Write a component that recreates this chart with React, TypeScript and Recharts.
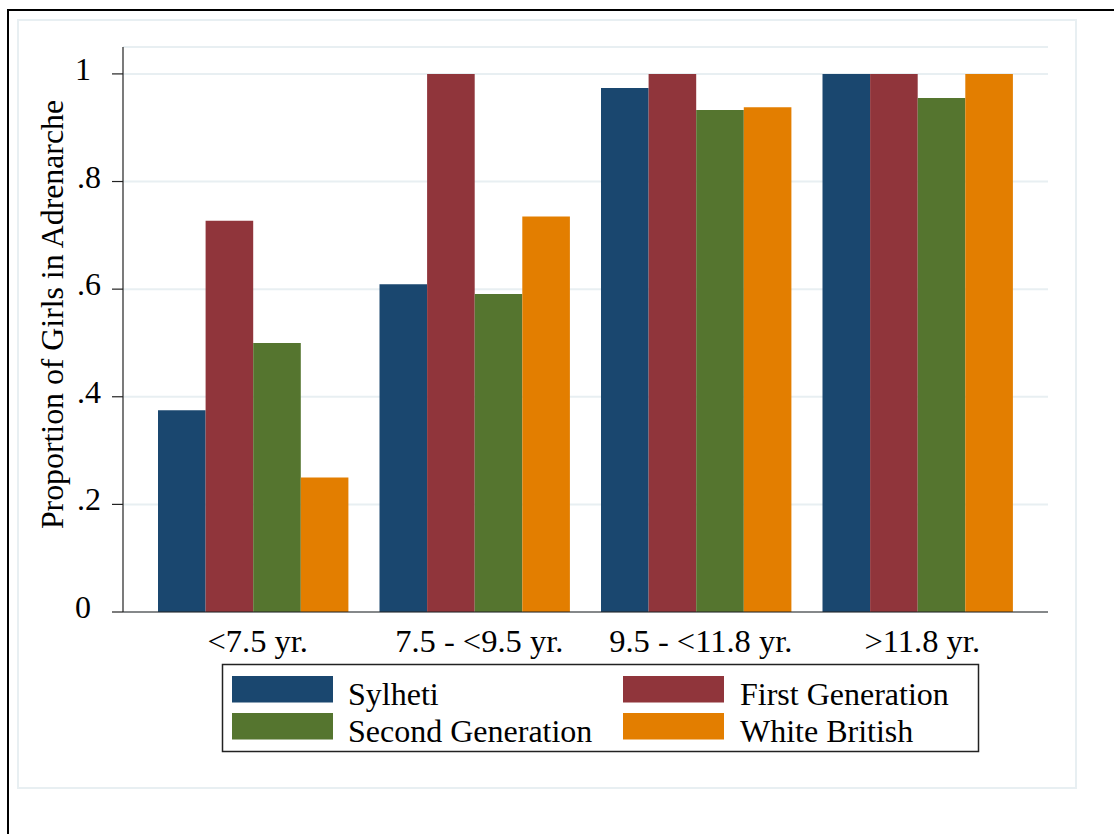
import React from 'react';
import { BarChart, Bar, XAxis, YAxis, CartesianGrid } from 'recharts';

const categories = ['<7.5 yr.', '7.5 - <9.5 yr.', '9.5 - <11.8 yr.', '>11.8 yr.'];
const sylheti = [0.375, 0.609, 0.974, 1];
const firstGeneration = [0.727, 1, 1, 1];
const secondGeneration = [0.5, 0.591, 0.933, 0.955];
const whiteBritish = [0.25, 0.735, 0.938, 1];

const seriesKeys = ['sylheti', 'firstGeneration', 'secondGeneration', 'whiteBritish'];
const seriesNames = ['Sylheti', 'First Generation', 'Second Generation', 'White British'];
const seriesColors = ['#1a476f', '#90353b', '#55752f', '#e37e00'];
const seriesValues = [sylheti, firstGeneration, secondGeneration, whiteBritish];

const yTicks = [0, 0.2, 0.4, 0.6, 0.8, 1];
const yTickLabels = ['0', '.2', '.4', '.6', '.8', '1'];
const yAxisTitle = 'Proportion of Girls in Adrenarche';

const data = categories.map((c, i) => {
  const row: Record<string, any> = { category: c };
  seriesKeys.forEach((k, s) => {
    row[k] = seriesValues[s][i];
  });
  return row;
});

const FONT = "'Liberation Serif', 'Times New Roman', serif";
const AXIS = '#222';
const GRID = '#e8eff2';

const YTick = (props: any) => {
  const { x, y, payload } = props;
  const idx = yTicks.indexOf(payload.value);
  const label = idx >= 0 ? yTickLabels[idx] : String(payload.value);
  const dx = label.startsWith('.') ? 0 : -10;
  return (
    <text x={x} y={y} dx={dx} dy={6} textAnchor="end" fontFamily={FONT} fontSize={32} fill="#000">
      {label}
    </text>
  );
};

const XTick = (props: any) => {
  const { x, y, payload } = props;
  return (
    <text x={x} y={y} dx={5} dy={40} textAnchor="middle" fontFamily={FONT} fontSize={32.5} fill="#000">
      {payload.value}
    </text>
  );
};

const YTitle = (props: any) => {
  const vb = props.viewBox || { x: 0, y: 47, width: 123, height: 565 };
  const cx = vb.x + 63;
  const cy = vb.y + vb.height / 2 - 15;
  return (
    <text
      x={cx}
      y={cy}
      transform={`rotate(-90, ${cx}, ${cy})`}
      textAnchor="middle"
      fontFamily={FONT}
      fontSize={31.8}
      fill="#000"
    >
      {yAxisTitle}
    </text>
  );
};

// legend layout (2 columns x 2 rows)
const legendSwatchX = [232, 623];
const legendTextX = [348, 740];
const legendSwatchY = [676, 713];
const legendTextY = [705, 742];

export default function App() {
  return (
    <div
      style={{
        position: 'absolute',
        left: 0,
        top: 0,
        width: 1114,
        height: 834,
        overflow: 'hidden',
        background: '#fff',
      }}
    >
      {/* outer black frame (cut at right/bottom) */}
      <div
        style={{
          position: 'absolute',
          left: 7,
          top: 9,
          width: 1300,
          height: 1000,
          border: '2px solid #000',
          boxSizing: 'border-box',
        }}
      />
      {/* inner light frame */}
      <div
        style={{
          position: 'absolute',
          left: 17,
          top: 19,
          width: 1060,
          height: 770,
          border: `2px solid ${GRID}`,
          boxSizing: 'border-box',
        }}
      />
      <div style={{ position: 'absolute', left: 0, top: 0 }}>
        <BarChart
          width={1114}
          height={834}
          data={data}
          margin={{ top: 47, right: 66, bottom: 162, left: 0 }}
          barCategoryGap={15}
          barGap={0}
        >
          <CartesianGrid horizontal vertical={false} stroke={GRID} strokeWidth={2} />
          <XAxis
            dataKey="category"
            height={60}
            padding={{ left: 19, right: 20 }}
            tickLine={false}
            tickSize={0}
            tickMargin={0}
            axisLine={{ stroke: AXIS, strokeWidth: 1.2 }}
            tick={<XTick />}
            interval={0}
          />
          <YAxis
            width={123}
            domain={[0, 1.05]}
            ticks={yTicks}
            type="number"
            allowDataOverflow
            tickSize={11}
            tickMargin={11}
            axisLine={{ stroke: AXIS, strokeWidth: 1.2 }}
            tickLine={{ stroke: AXIS, strokeWidth: 1.2 }}
            tick={<YTick />}
            interval={0}
            label={{ value: yAxisTitle, content: <YTitle /> }}
          />
          {seriesKeys.map((k, i) => (
            <Bar
              key={k}
              dataKey={k}
              name={seriesNames[i]}
              fill={seriesColors[i]}
              barSize={47.6}
              isAnimationActive={false}
            />
          ))}
        </BarChart>
      </div>
      {/* legend */}
      <svg
        width={1114}
        height={834}
        style={{ position: 'absolute', left: 0, top: 0, pointerEvents: 'none' }}
      >
        <rect x={222.5} y={664.5} width={756} height={87} fill="#fff" stroke={AXIS} strokeWidth={1.5} />
        {seriesNames.map((name, i) => {
          const col = i % 2;
          const row = Math.floor(i / 2);
          return (
            <g key={name}>
              <rect
                x={legendSwatchX[col]}
                y={legendSwatchY[row]}
                width={101}
                height={26.5}
                fill={seriesColors[i]}
              />
              <text x={legendTextX[col]} y={legendTextY[row]} fontFamily={FONT} fontSize={32} fill="#000">
                {name}
              </text>
            </g>
          );
        })}
      </svg>
    </div>
  );
}
